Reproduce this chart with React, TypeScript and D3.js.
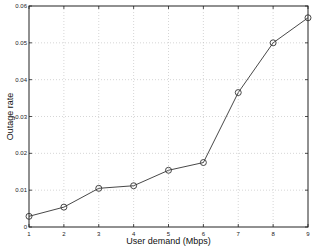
import React, { useEffect, useRef } from "react";
import * as d3 from "d3";

const demand = [1, 2, 3, 4, 5, 6, 7, 8, 9];
const outage = [0.0029, 0.0054, 0.0105, 0.0112, 0.0154, 0.0175, 0.0365, 0.05, 0.0568];
const yTicks = [0, 0.01, 0.02, 0.03, 0.04, 0.05, 0.06];
const xTicks = [1, 2, 3, 4, 5, 6, 7, 8, 9];

const App: React.FC = () => {
  const svgRef = useRef<SVGSVGElement>(null);

  useEffect(() => {
    if (!svgRef.current) return;
    const root = d3.select(svgRef.current);
    root.selectAll("*").remove();

    const left = 29, right = 308, top = 6, bottom = 227;
    const font = "Liberation Sans, Arial, sans-serif";

    const x = d3.scaleLinear().domain([1, 9]).range([left, right]);
    const y = d3.scaleLinear().domain([0, 0.06]).range([bottom, top]);

    root.append("rect").attr("x", 0).attr("y", 0).attr("width", 315).attr("height", 248).attr("fill", "#fff");

    // Grid
    const grid = root.append("g").attr("stroke", "#bbb").attr("stroke-width", 0.6).attr("stroke-dasharray", "1,2");
    xTicks.slice(1, -1).forEach((t) => {
      grid.append("line").attr("x1", x(t)).attr("x2", x(t)).attr("y1", top).attr("y2", bottom);
    });
    yTicks.slice(1, -1).forEach((t) => {
      grid.append("line").attr("x1", left).attr("x2", right).attr("y1", y(t)).attr("y2", y(t));
    });

    // Box
    root
      .append("rect")
      .attr("x", left)
      .attr("y", top)
      .attr("width", right - left)
      .attr("height", bottom - top)
      .attr("fill", "none")
      .attr("stroke", "#222")
      .attr("stroke-width", 1);

    // Ticks (inside, all four sides)
    const ticks = root.append("g").attr("stroke", "#222").attr("stroke-width", 0.8);
    xTicks.forEach((t) => {
      ticks.append("line").attr("x1", x(t)).attr("x2", x(t)).attr("y1", bottom).attr("y2", bottom - 3);
      ticks.append("line").attr("x1", x(t)).attr("x2", x(t)).attr("y1", top).attr("y2", top + 3);
    });
    yTicks.forEach((t) => {
      ticks.append("line").attr("x1", left).attr("x2", left + 3).attr("y1", y(t)).attr("y2", y(t));
      ticks.append("line").attr("x1", right).attr("x2", right - 3).attr("y1", y(t)).attr("y2", y(t));
    });

    // Tick labels
    root
      .append("g")
      .selectAll("text")
      .data(xTicks)
      .enter()
      .append("text")
      .attr("x", (d) => x(d))
      .attr("y", bottom + 9)
      .attr("text-anchor", "middle")
      .style("font-family", font)
      .style("font-size", "6px")
      .attr("fill", "#222")
      .text((d) => String(d));

    root
      .append("g")
      .selectAll("text")
      .data(yTicks)
      .enter()
      .append("text")
      .attr("x", left - 2)
      .attr("y", (d) => y(d) + 2)
      .attr("text-anchor", "end")
      .style("font-family", font)
      .style("font-size", "6px")
      .attr("fill", "#222")
      .text((d) => (d === 0 ? "0" : d3.format(".2f")(d)));

    // Line
    const line = d3
      .line<number>()
      .x((_, i) => x(demand[i]))
      .y((d) => y(d));
    root
      .append("path")
      .datum(outage)
      .attr("d", line)
      .attr("fill", "none")
      .attr("stroke", "#333")
      .attr("stroke-width", 0.9);

    root
      .append("g")
      .selectAll("circle")
      .data(outage)
      .enter()
      .append("circle")
      .attr("cx", (_, i) => x(demand[i]))
      .attr("cy", (d) => y(d))
      .attr("r", 3)
      .attr("fill", "none")
      .attr("stroke", "#333")
      .attr("stroke-width", 0.9);

    // Axis labels
    root
      .append("text")
      .attr("x", (left + right) / 2)
      .attr("y", 244)
      .attr("text-anchor", "middle")
      .style("font-family", font)
      .style("font-size", "9px")
      .attr("fill", "#111")
      .text("User demand (Mbps)");

    root
      .append("text")
      .attr("transform", `translate(13,${(top + bottom) / 2}) rotate(-90)`)
      .attr("text-anchor", "middle")
      .style("font-family", font)
      .style("font-size", "9px")
      .attr("fill", "#111")
      .text("Outage rate");
  }, []);

  return <svg ref={svgRef} width={315} height={248} style={{ position: "absolute", left: 0, top: 0 }} />;
};

export default App;
